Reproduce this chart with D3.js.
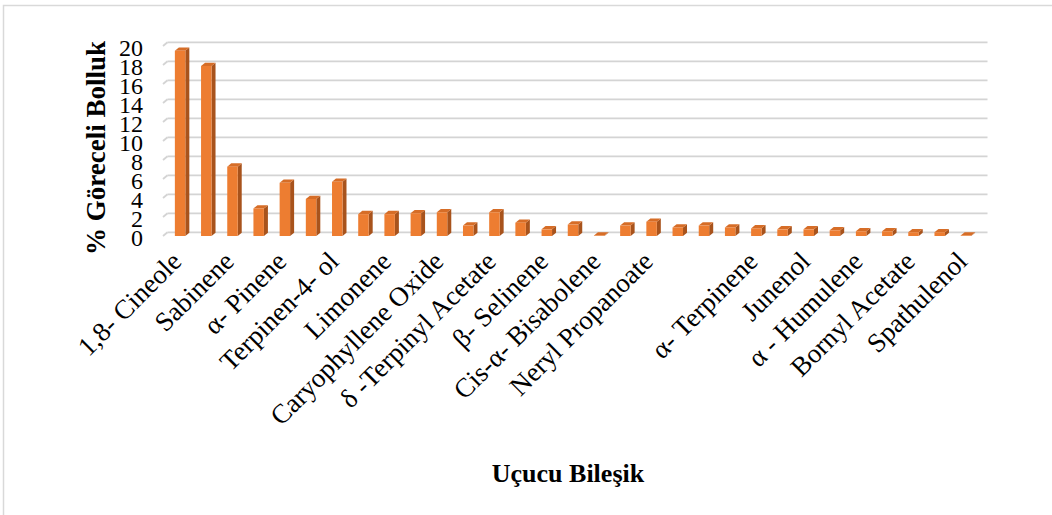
<!DOCTYPE html>
<html>
<head>
<meta charset="utf-8">
<script src="https://cdn.jsdelivr.net/npm/d3@7/dist/d3.min.js"></script>
<style>
  html, body { margin: 0; padding: 0; background: #fff; }
  svg { display: block; }
  text { font-family: "Liberation Serif", "Times New Roman", serif; fill: #000; }
</style>
</head>
<body>
<svg id="chart" width="1052" height="515"></svg>
<script>
// Compound names (only every other one is printed on the axis)
const categories = [
  "1,8- Cineole", "", "Sabinene", "", "α- Pinene", "", "Terpinen-4- ol", "",
  "Limonene", "", "Caryophyllene Oxide", "", "δ -Terpinyl Acetate", "",
  "β- Selinene", "", "Cis-α- Bisabolene", "", "Neryl Propanoate", "", "", "",
  "α- Terpinene", "", "Junenol", "", "α - Humulene", "", "Bornyl Acetate", "",
  "Spathulenol"
];
// Relative abundance (%)
const values = [
  19.5, 17.9, 7.3, 2.9, 5.6, 3.9, 5.7, 2.3,
  2.3, 2.4, 2.5, 1.1, 2.5, 1.4, 0.7, 1.2,
  0.05, 1.1, 1.5, 0.9, 1.1, 0.9, 0.8, 0.7,
  0.7, 0.6, 0.5, 0.5, 0.4, 0.4, 0.05
];
const yTicks = [0, 2, 4, 6, 8, 10, 12, 14, 16, 18, 20];
const yTitle = "% Göreceli Bolluk";
const xTitle = "Uçucu Bileşik";

const svg = d3.select("#chart");

// chart area frame
svg.append("rect")
  .attr("x", 3.5).attr("y", 5.5)
  .attr("width", 1060).attr("height", 520)
  .attr("fill", "none").attr("stroke", "#d9d9d9").attr("stroke-width", 1.5);

// front plane geometry
const x0 = 167, x1 = 979;
const yBase = 236, yTop = 46;
const wallDx = 4.5, wallDy = 3.7;   // depth of the back wall
const barDx = 4, barDy = 3.3;       // depth of each column

const x = d3.scaleBand()
  .domain(d3.range(categories.length))
  .range([x0, x1])
  .paddingInner(0.6)
  .paddingOuter(0.3);

const y = d3.scaleLinear().domain([0, 20]).range([yBase, yTop]);

// gridlines on the back wall plus the short side-wall segments
const grid = svg.append("g");
yTicks.forEach(t => {
  const yy = y(t);
  grid.append("line")
    .attr("x1", x0 - 4).attr("y1", yy)
    .attr("x2", x0 - 4 + wallDx).attr("y2", yy - wallDy)
    .attr("stroke", "#d4d4d4").attr("stroke-width", 1.8);
  grid.append("line")
    .attr("x1", x0 - 4 + wallDx).attr("y1", yy - wallDy)
    .attr("x2", x1 + 4 + wallDx).attr("y2", yy - wallDy)
    .attr("stroke", "#d4d4d4").attr("stroke-width", 1.8);
});

// y tick labels
svg.append("g")
  .selectAll("text")
  .data(yTicks)
  .join("text")
  .attr("x", 143)
  .attr("y", d => y(d) + 2)
  .attr("text-anchor", "end")
  .attr("dominant-baseline", "central")
  .attr("font-size", 24)
  .text(d => d);

// 3D columns: side face, top face, front face
const bars = svg.append("g")
  .selectAll("g")
  .data(values)
  .join("g");

bars.append("path")
  .attr("fill", "#a8531c")
  .attr("d", (d, i) => {
    const xr = x(i) + x.bandwidth(), yt = y(d);
    return `M${xr},${yt}L${xr + barDx},${yt - barDy}L${xr + barDx},${yBase - barDy}L${xr},${yBase}Z`;
  });

bars.append("path")
  .attr("fill", "#d66d27")
  .attr("d", (d, i) => {
    const xl = x(i), xr = xl + x.bandwidth(), yt = y(d);
    return `M${xl},${yt}L${xl + barDx},${yt - barDy}L${xr + barDx},${yt - barDy}L${xr},${yt}Z`;
  });

bars.append("rect")
  .attr("fill", "#ed7d31")
  .attr("x", (d, i) => x(i))
  .attr("y", d => y(d))
  .attr("width", x.bandwidth())
  .attr("height", d => yBase - y(d));

// rotated category labels
svg.append("g")
  .selectAll("text")
  .data(categories.map((c, i) => ({ c, i })).filter(d => d.c !== ""))
  .join("text")
  .attr("transform", d => {
    const cx = x(d.i) + x.bandwidth() / 2 + 3;
    return `translate(${cx},${263}) rotate(-45)`;
  })
  .attr("text-anchor", "end")
  .attr("font-size", 27)
  .text(d => d.c);

// axis titles
svg.append("text")
  .attr("transform", "translate(105,148) rotate(-90)")
  .attr("text-anchor", "middle")
  .attr("font-size", 27)
  .attr("font-weight", "bold")
  .text(yTitle);

svg.append("text")
  .attr("x", 568).attr("y", 482)
  .attr("text-anchor", "middle")
  .attr("font-size", 26)
  .attr("font-weight", "bold")
  .text(xTitle);
</script>
</body>
</html>
